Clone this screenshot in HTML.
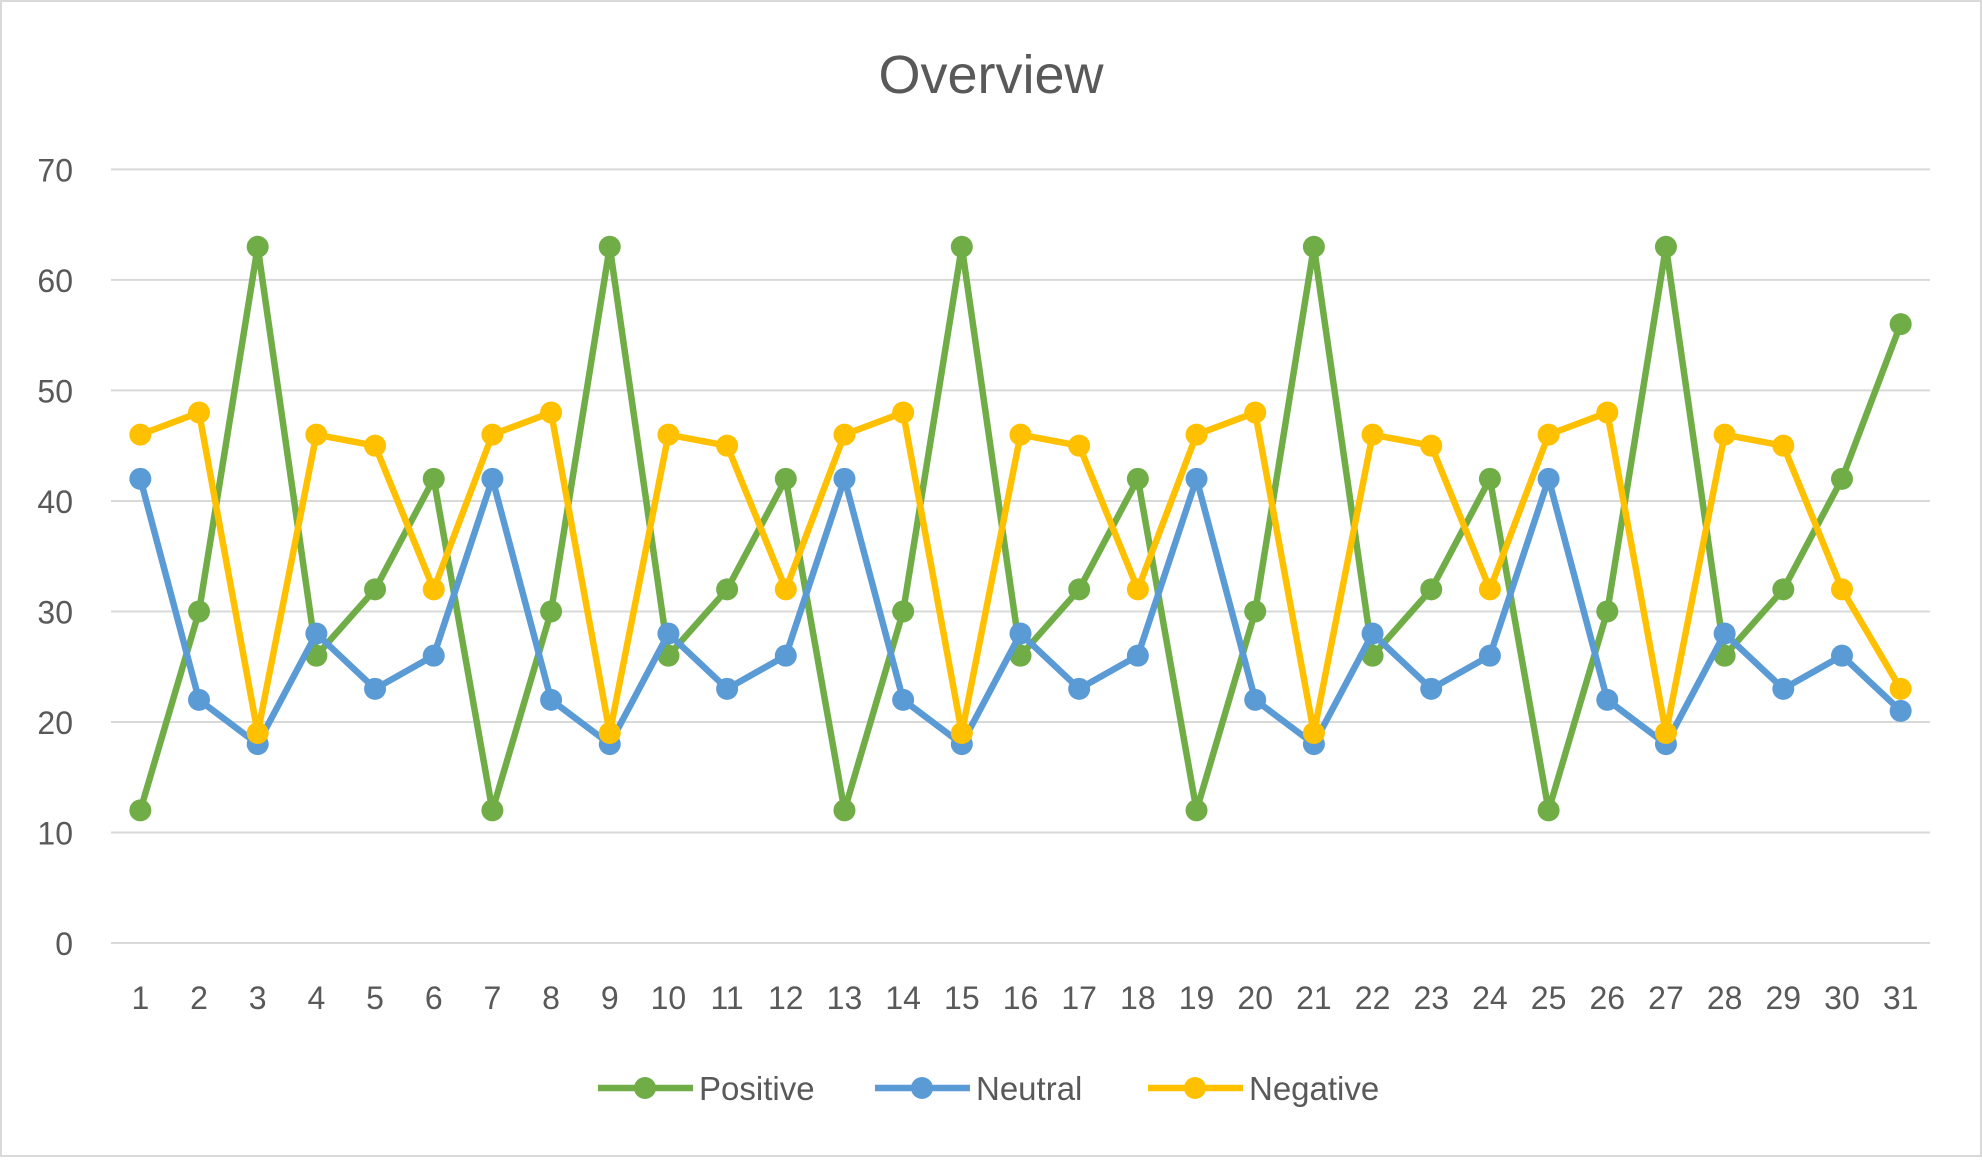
<!DOCTYPE html>
<html><head><meta charset="utf-8"><style>
html,body{margin:0;padding:0;background:#fff;}
svg text{font-family:"Liberation Sans",sans-serif;fill:#595959;}
</style></head><body>
<svg id="chart" width="1982" height="1157" xmlns="http://www.w3.org/2000/svg">
<rect x="1" y="1" width="1980" height="1155" fill="#fff" stroke="#D9D9D9" stroke-width="2"/>
<text x="991" y="93" font-size="54" text-anchor="middle">Overview</text>
<g id="grid"></g><g id="series"></g><g id="axes"></g>
<g id="legend"></g>
</svg>
<script>
const categories=[1,2,3,4,5,6,7,8,9,10,11,12,13,14,15,16,17,18,19,20,21,22,23,24,25,26,27,28,29,30,31];
const positive=[12,30,63,26,32,42,12,30,63,26,32,42,12,30,63,26,32,42,12,30,63,26,32,42,12,30,63,26,32,42,56];
const neutral=[42,22,18,28,23,26,42,22,18,28,23,26,42,22,18,28,23,26,42,22,18,28,23,26,42,22,18,28,23,26,21];
const negative=[46,48,19,46,45,32,46,48,19,46,45,32,46,48,19,46,45,32,46,48,19,46,45,32,46,48,19,46,45,32,23];
const yTicks=[0,10,20,30,40,50,60,70];
const NS="http://www.w3.org/2000/svg";
const x0=111,x1=1930,y0=943,yTop=169.4;
const step=(x1-x0)/categories.length;
function xs(i){return x0+step*(i+0.5);}
function ys(v){return y0-(y0-yTop)*v/70;}
function mk(tag,attrs,parent){const e=document.createElementNS(NS,tag);for(const k in attrs)e.setAttribute(k,attrs[k]);parent.appendChild(e);return e;}
const grid=document.getElementById('grid'),axes=document.getElementById('axes'),ser=document.getElementById('series'),leg=document.getElementById('legend');
yTicks.forEach(t=>{
 const l=mk('line',{x1:x0,x2:x1,y1:ys(t),y2:ys(t),stroke:'#D9D9D9','stroke-width':2},grid);
 
 
 const tx=mk('text',{x:73,y:ys(t)+12,'font-size':32,'text-anchor':'end'},axes);
 tx.textContent=t;
 
 
});
categories.forEach((c,i)=>{
 const tx=mk('text',{x:xs(i),y:1009,'font-size':32,'text-anchor':'middle'},axes);
 tx.textContent=c;
 
 
});
const defs=[['positive',positive,'#70AD47'],['neutral',neutral,'#5B9BD5'],['negative',negative,'#FFC000']];
defs.forEach(([n,vals,col])=>{
 const g=mk('g',{},ser);
 
 
 const p=mk('polyline',{points:vals.map((v,i)=>xs(i)+','+ys(v)).join(' '),fill:'none',stroke:col,'stroke-width':6.5,'stroke-linejoin':'round'},g);
 
 
 vals.forEach((v,i)=>{
  const c=mk('circle',{cx:xs(i),cy:ys(v),r:11,fill:col},g);
  
  
 });
});
const legItems=[['Positive','#70AD47',598],['Neutral','#5B9BD5',875],['Negative','#FFC000',1148]];
legItems.forEach(([t,col,x])=>{
 const g=mk('g',{},leg);
 
 
 mk('line',{x1:x,x2:x+95,y1:1088,y2:1088,stroke:col,'stroke-width':6.5},g);
 mk('circle',{cx:x+47,cy:1088,r:11,fill:col},g);
 const tx=mk('text',{x:x+101,y:1100,'font-size':33},g);
 tx.textContent=t;
});
</script>
</body></html>
